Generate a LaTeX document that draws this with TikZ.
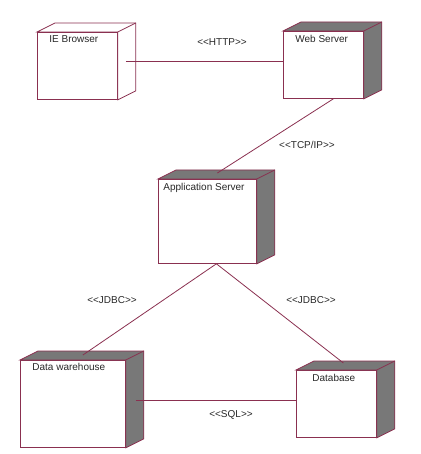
\documentclass[tikz,border=0pt]{standalone}
\usepackage{fontspec}
\setmainfont{Liberation Sans}
\usetikzlibrary{calc}
\definecolor{umlline}{RGB}{138,48,80}
\definecolor{umlshade}{RGB}{120,120,120}
\definecolor{umltext}{RGB}{40,40,40}

\begin{document}
\begin{tikzpicture}[x=1pt,y=-1pt,line width=0.8pt]
		\tikzstyle{device}=[draw=umlline,fill=white,anchor=north west,inner sep=0pt,minimum width=80pt,minimum height=67pt]
		\tikzstyle{tag}=[text=umltext,font=\fontsize{10}{12}\selectfont,inner sep=0pt]
		\tikzstyle{devname}=[tag,anchor=north west]
		\tikzstyle{link}=[draw=umlline]
		\useasboundingbox (0,0) rectangle (420,454);
		
		% Draw the front faces of the devices
		\node[device] (ie) at (37,32) {};
		\node[device] (ws) at (283,31) {};
		\node[device,minimum width=98pt,minimum height=84pt] (as) at (158,179) {};
		\node[device,minimum width=105pt,minimum height=87pt] (dw) at (20,360) {};
		\node[device] (db) at (296,370) {};
		
		% Draw the top and right faces
		\foreach \dev / \shade in {ie/white,ws/umlshade,as/umlshade,dw/umlshade,db/umlshade}
		{
		\filldraw[draw=umlline,fill=\shade] (\dev.north west) -- ++(18,-9) -| ($(\dev.south east)+(18,-9)$) -- (\dev.south east) -- (\dev.north east) -- cycle;
		\draw[umlline] (\dev.north east) -- ++(18,-9);
		}
		
		% Name the devices
		\node[devname] (ie-t) at ($(ie.north west)+(12,3)$) {IE Browser};
		\node[devname] (ws-t) at ($(ws.north west)+(12,4)$) {Web Server};
		\node[devname] (as-t) at ($(as.north west)+(5,4)$) {Application Server};
		\node[devname] (dw-t) at ($(dw.north west)+(12,3)$) {Data warehouse};
		\node[devname] (db-t) at ($(db.north west)+(16,4)$) {Database};
		
		% Connect the devices
		\coordinate (as-b) at ($(as.south)+(9,0)$);
		\draw[link] ($(ie.east)+(8,-4)$) -- ($(ws.west)+(0,-3)$);
		\draw[link] ($(ws.south)+(10,0)$) -- ($(as.north)+(10,-6)$);
		\draw[link] (as-b) -- ($(dw.north)+(10,-5)$);
		\draw[link] (as-b) -- ($(db.north)+(7,-7)$);
		\draw[link] ($(dw.east)+(10,-3.5)$) -- ($(db.west)+(0,-3.5)$);
		
		% Annotate the links
		\node[tag] (http) at (222,42) {<{}<HTTP>{}>};
		\node[tag] (tcp) at (307,145) {<{}<TCP/IP>{}>};
		\node[tag] (jdbc1) at (112,300) {<{}<JDBC>{}>};
		\node[tag] (jdbc2) at (311,300) {<{}<JDBC>{}>};
		\node[tag] (sql) at (231,415) {<{}<SQL>{}>};
	
	\end{tikzpicture}
\end{document}
